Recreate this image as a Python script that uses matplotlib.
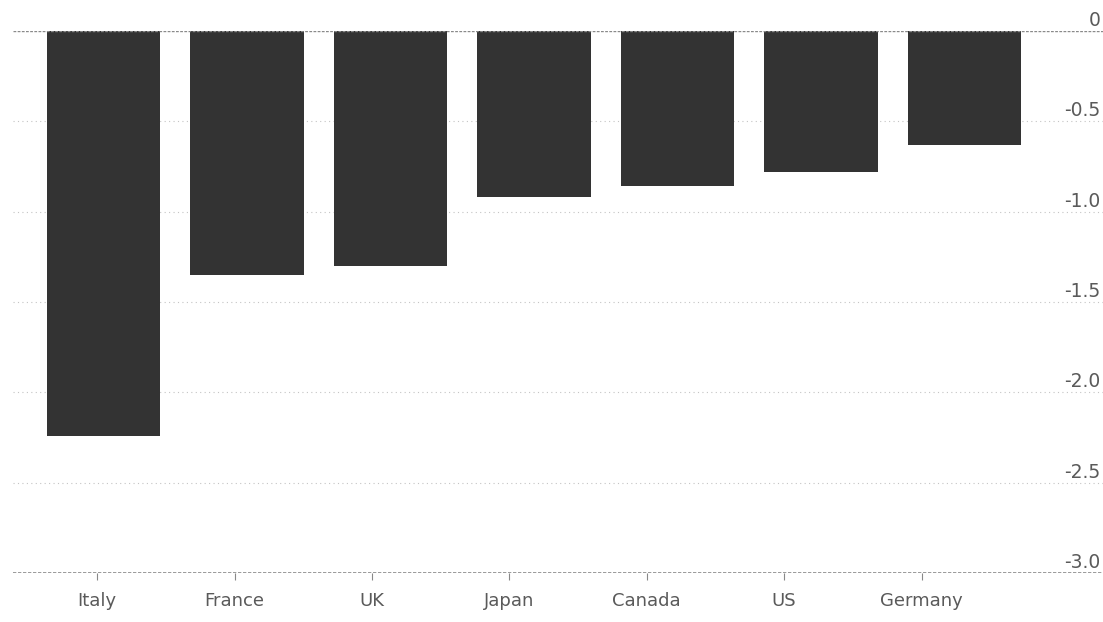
import numpy as np
from matplotlib import pyplot as plt
from matplotlib import transforms

# data
countries = ['Italy', 'France', 'UK', 'Japan', 'Canada', 'US', 'Germany']
values = [-2.24, -1.35, -1.30, -0.92, -0.86, -0.78, -0.63]
y_ticks = [0, -0.5, -1.0, -1.5, -2.0, -2.5, -3.0]
y_tick_labels = ['0', '-0.5', '-1.0', '-1.5', '-2.0', '-2.5', '-3.0']

fig = plt.figure(dpi=100, figsize=(11.03, 6.22))
ax = fig.add_axes([0.012, 0.079, 0.988, 0.871])

x = np.arange(len(countries))
ax.bar(x, values, width=0.79, color='#333333', zorder=2)

ax.set_xlim(-0.627, 6.964)
ax.set_ylim(-3.0, 0)

# dotted grid lines behind the bars
for y in y_ticks[1:-1]:
    ax.axhline(y, color='#c4c4c4', lw=0.8, ls=(0, (1, 3)), zorder=1)
ax.axhline(0, color='#8a8a8a', lw=1.0, ls=(0, (2, 1)), zorder=3)
ax.axhline(-3.0, color='#8a8a8a', lw=1.2, ls=(0, (2, 1)), zorder=3)

for side in ['top', 'right', 'left', 'bottom']:
    ax.spines[side].set_visible(False)

# y labels sit on the right, just above their grid line
ax.set_yticks([])
trans = transforms.blended_transform_factory(ax.transAxes, ax.transData)
for y, lab in zip(y_ticks, y_tick_labels):
    ax.text(0.998, y + 0.005, lab, transform=trans, ha='right', va='bottom',
            fontsize=13.5, color='#5a5a5a')

# category labels are spaced a bit tighter than the bars
label_pos = x * 0.957 - 0.042
ax.set_xticks(label_pos)
ax.set_xticklabels(countries, fontsize=13, color='#5a5a5a')
ax.tick_params(axis='x', length=5, width=0.8, color='#888888', pad=9)

fig.savefig('out.png', dpi=100)
